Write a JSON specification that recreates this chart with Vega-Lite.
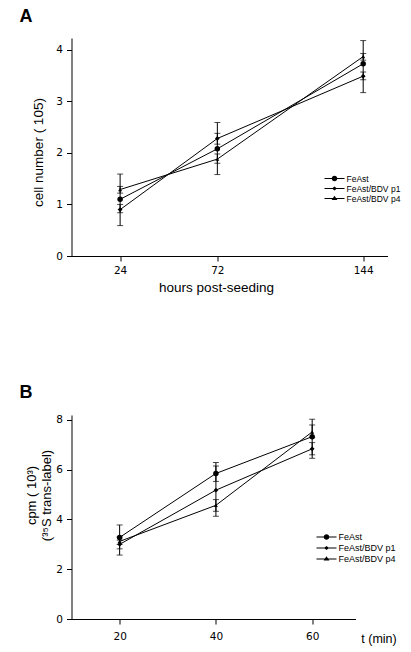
{
  "$schema": "https://vega.github.io/schema/vega-lite/v6.json",
  "background": "white",
  "padding": {"left": 19.5, "top": 8, "right": 5, "bottom": 5},
  "spacing": 89,
  "config": {
    "view": {"stroke": null},
    "axis": {
      "grid": false,
      "domainColor": "black",
      "tickColor": "black",
      "tickSize": 5,
      "labelColor": "black",
      "labelFont": "DejaVu Sans",
      "labelFontSize": 10.5,
      "titleColor": "black",
      "titleFont": "Liberation Sans",
      "titleFontSize": 13.5,
      "titleFontWeight": "normal"
    }
  },
  "datasets": {
    "a": [
      {"series": "FeAst", "x": 24, "y": 1.10, "lo": 0.59, "hi": 1.59},
      {"series": "FeAst", "x": 72, "y": 2.08, "lo": 1.58, "hi": 2.59},
      {"series": "FeAst", "x": 144, "y": 3.73, "lo": 3.17, "hi": 4.18},
      {"series": "FeAst/BDV p1", "x": 24, "y": 0.90, "lo": 0.84, "hi": 1.00},
      {"series": "FeAst/BDV p1", "x": 72, "y": 2.28, "lo": 2.17, "hi": 2.38},
      {"series": "FeAst/BDV p1", "x": 144, "y": 3.49, "lo": 3.42, "hi": 3.57},
      {"series": "FeAst/BDV p4", "x": 24, "y": 1.29, "lo": 1.22, "hi": 1.35},
      {"series": "FeAst/BDV p4", "x": 72, "y": 1.88, "lo": 1.80, "hi": 1.98},
      {"series": "FeAst/BDV p4", "x": 144, "y": 3.87, "lo": 3.80, "hi": 3.93}
    ],
    "b": [
      {"series": "FeAst", "x": 20, "y": 3.28, "lo": 2.57, "hi": 3.78},
      {"series": "FeAst", "x": 40, "y": 5.85, "lo": 5.53, "hi": 6.15},
      {"series": "FeAst", "x": 60, "y": 7.33, "lo": 6.46, "hi": 8.03},
      {"series": "FeAst/BDV p1", "x": 20, "y": 3.00, "lo": 2.82, "hi": 3.17},
      {"series": "FeAst/BDV p1", "x": 40, "y": 5.18, "lo": 4.13, "hi": 6.29},
      {"series": "FeAst/BDV p1", "x": 60, "y": 6.84, "lo": 6.60, "hi": 7.09},
      {"series": "FeAst/BDV p4", "x": 20, "y": 3.12, "lo": 3.00, "hi": 3.30},
      {"series": "FeAst/BDV p4", "x": 40, "y": 4.57, "lo": 4.33, "hi": 4.80},
      {"series": "FeAst/BDV p4", "x": 60, "y": 7.52, "lo": 7.30, "hi": 7.80}
    ]
  },
  "vconcat": [
    {
      "title": {"text": "A", "anchor": "start", "frame": "group", "font": "Liberation Sans", "fontSize": 18, "fontWeight": "bold", "color": "black", "baseline": "alphabetic", "dx": -52, "offset": -2},
      "width": 316,
      "height": 218,
      "data": {"name": "a"},
      "layer": [
        {
          "mark": {"type": "line", "color": "black", "strokeWidth": 1},
          "encoding": {
            "x": {"field": "x", "type": "quantitative", "scale": {"domain": [0, 156], "nice": false, "zero": false}, "axis": {"values": [24, 72, 144], "title": "hours post-seeding", "labelPadding": 4, "titlePadding": 5, "titleX": 144.5}},
            "y": {"field": "y", "type": "quantitative", "scale": {"domain": [0, 4.23], "nice": false}, "axis": {"values": [0, 1, 2, 3, 4], "format": "d", "title": "cell number ( 105)", "labelPadding": 4, "titlePadding": 10, "titleY": 114}},
            "detail": {"field": "series"}
          }
        },
        {
          "mark": {"type": "errorbar", "color": "black", "thickness": 1, "ticks": {"size": 6, "color": "black"}},
          "encoding": {
            "x": {"field": "x", "type": "quantitative", "title": "hours post-seeding"},
            "y": {"field": "lo", "type": "quantitative", "title": "cell number ( 105)"},
            "y2": {"field": "hi"}
          }
        },
        {
          "mark": {"type": "point", "filled": true, "color": "black", "opacity": 1},
          "encoding": {
            "x": {"field": "x", "type": "quantitative", "title": "hours post-seeding"},
            "y": {"field": "y", "type": "quantitative", "title": "cell number ( 105)"},
            "shape": {"field": "series", "type": "nominal", "scale": {"domain": ["FeAst", "FeAst/BDV p1", "FeAst/BDV p4"], "range": ["circle", "diamond", "triangle-up"]}, "legend": null},
            "size": {"field": "series", "type": "nominal", "scale": {"domain": ["FeAst", "FeAst/BDV p1", "FeAst/BDV p4"], "range": [30, 16, 24]}, "legend": null}
          }
        },
        {
          "mark": {"type": "point", "filled": true, "color": "black", "opacity": 0},
          "encoding": {
            "x": {"field": "x", "type": "quantitative", "title": "hours post-seeding"},
            "y": {"field": "y", "type": "quantitative", "title": "cell number ( 105)"},
            "shape": {
              "field": "series", "type": "nominal",
              "scale": {"domain": ["FeAst", "FeAst/BDV p1", "FeAst/BDV p4"], "range": ["M-2,-0.1H2V0.1H-2ZM-0.56,0A0.56,0.56 0 1,1 0.56,0A0.56,0.56 0 1,1 -0.56,0Z", "M-2,-0.1H2V0.1H-2ZM-0.5,0L0,-0.4L0.5,0L0,0.4Z", "M-2,-0.1H2V0.1H-2ZM-0.58,0.28L0,-0.56L0.58,0.28Z"]},
              "legend": {"orient": "none", "legendX": 258, "legendY": 135.5, "title": null, "padding": 0, "symbolSize": 100, "symbolOpacity": 1, "symbolFillColor": "black", "symbolStrokeWidth": 0, "labelFont": "Liberation Sans", "labelFontSize": 8.5, "labelColor": "black", "labelOffset": 7, "rowPadding": 0}
            }
          }
        }
      ],
      "resolve": {"scale": {"shape": "independent", "size": "independent"}}
    },
    {
      "title": {"text": "B", "anchor": "start", "frame": "group", "font": "Liberation Sans", "fontSize": 18, "fontWeight": "bold", "color": "black", "baseline": "alphabetic", "dx": -52, "offset": -1},
      "width": 284,
      "height": 204,
      "data": {"name": "b"},
      "layer": [
        {
          "mark": {"type": "line", "color": "black", "strokeWidth": 1},
          "encoding": {
            "x": {"field": "x", "type": "quantitative", "scale": {"domain": [10, 69], "nice": false, "zero": false}, "axis": {"values": [20, 40, 60], "title": "t (min)", "labelPadding": 7, "titleX": 307, "titleY": 13, "titleFontSize": 12.5}},
            "y": {"field": "y", "type": "quantitative", "scale": {"domain": [0, 8.2], "nice": false}, "axis": {"values": [0, 2, 4, 6, 8], "title": ["cpm ( 10³)", "(³⁵S trans-label)"], "labelPadding": 4, "titlePadding": 2, "titleFontSize": 13, "titleY": 80}},
            "detail": {"field": "series"}
          }
        },
        {
          "mark": {"type": "errorbar", "color": "black", "thickness": 1, "ticks": {"size": 6, "color": "black"}},
          "encoding": {
            "x": {"field": "x", "type": "quantitative", "title": "t (min)"},
            "y": {"field": "lo", "type": "quantitative", "title": ["cpm ( 10³)", "(³⁵S trans-label)"]},
            "y2": {"field": "hi"}
          }
        },
        {
          "mark": {"type": "point", "filled": true, "color": "black", "opacity": 1},
          "encoding": {
            "x": {"field": "x", "type": "quantitative", "title": "t (min)"},
            "y": {"field": "y", "type": "quantitative", "title": ["cpm ( 10³)", "(³⁵S trans-label)"]},
            "shape": {"field": "series", "type": "nominal", "scale": {"domain": ["FeAst", "FeAst/BDV p1", "FeAst/BDV p4"], "range": ["circle", "diamond", "triangle-up"]}, "legend": null},
            "size": {"field": "series", "type": "nominal", "scale": {"domain": ["FeAst", "FeAst/BDV p1", "FeAst/BDV p4"], "range": [30, 16, 24]}, "legend": null}
          }
        },
        {
          "mark": {"type": "point", "filled": true, "color": "black", "opacity": 0},
          "encoding": {
            "x": {"field": "x", "type": "quantitative", "title": "t (min)"},
            "y": {"field": "y", "type": "quantitative", "title": ["cpm ( 10³)", "(³⁵S trans-label)"]},
            "shape": {
              "field": "series", "type": "nominal",
              "scale": {"domain": ["FeAst", "FeAst/BDV p1", "FeAst/BDV p4"], "range": ["M-2,-0.1H2V0.1H-2ZM-0.56,0A0.56,0.56 0 1,1 0.56,0A0.56,0.56 0 1,1 -0.56,0Z", "M-2,-0.1H2V0.1H-2ZM-0.5,0L0,-0.4L0.5,0L0,0.4Z", "M-2,-0.1H2V0.1H-2ZM-0.58,0.28L0,-0.56L0.58,0.28Z"]},
              "legend": {"orient": "none", "legendX": 250, "legendY": 117, "title": null, "padding": 0, "symbolSize": 100, "symbolOpacity": 1, "symbolFillColor": "black", "symbolStrokeWidth": 0, "labelFont": "Liberation Sans", "labelFontSize": 9, "labelColor": "black", "labelOffset": 7, "rowPadding": 1}
            }
          }
        }
      ],
      "resolve": {"scale": {"shape": "independent", "size": "independent"}}
    }
  ]
}
